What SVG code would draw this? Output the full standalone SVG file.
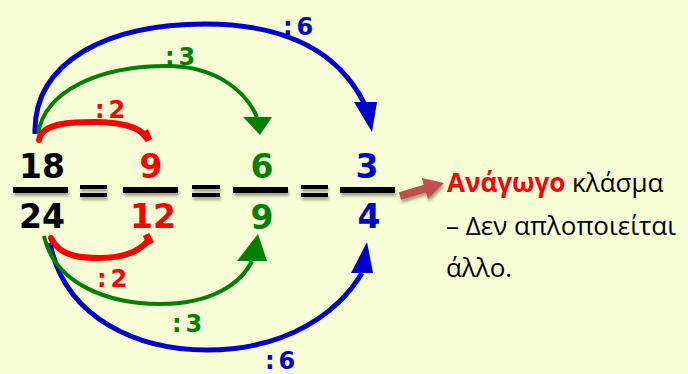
<svg xmlns="http://www.w3.org/2000/svg" width="688" height="374" viewBox="0 0 688 374">
<style>
.num{font-family:"DejaVu Sans","Liberation Sans",sans-serif;font-weight:bold;font-size:33px;text-anchor:middle}
.lbl{font-family:"DejaVu Sans","Liberation Sans",sans-serif;font-weight:bold;font-size:24px;letter-spacing:4px}
.txt{font-family:"Open Sans","Liberation Sans",sans-serif;font-size:26px;fill:#000}
.bar{fill:#000}
.red{fill:#FF0000}.green{fill:#008000}.blue{fill:#0000CC}
.cr{fill:none;stroke:#FF0000;stroke-width:6;stroke-linecap:round}
.cg{fill:none;stroke:#008000;stroke-width:4}
.cb{fill:none;stroke:#0000CC;stroke-width:5}
</style>
<defs>
<filter id="sh" x="-10%" y="-100%" width="120%" height="400%">
<feGaussianBlur in="SourceAlpha" stdDeviation="1.5"/>
<feOffset dx="1" dy="3" result="b"/>
<feComponentTransfer><feFuncA type="linear" slope="0.35"/></feComponentTransfer>
<feMerge><feMergeNode/><feMergeNode in="SourceGraphic"/></feMerge>
</filter>
</defs>
<rect width="688" height="374" fill="#F7FDD4"/>

<g id="connectors">
<path class="cb" d="M35 134 C33 60 110 24 205 24 C290 24 340 55 364 103"/>
<polygon class="blue" points="354,102 377,102 372,132"/>
<path class="cg" d="M38 134 C45 90 100 66 167 66 C215 66 245 90 257 117"/>
<polygon class="green" points="243,117 272,117 260,135"/>
<path class="cr" d="M39 140 C42 122 75 122 95 122 C120 122 140 127 146 137"/>
<polygon class="red" points="139,134 148,129 152,139 146,142"/>
<path class="cb" d="M50 243 C65 320 140 350 207 350 C290 350 340 310 362 273"/>
<polygon class="blue" points="351,273 373,273 367,242"/>
<path class="cg" d="M44 236 C55 285 110 304 160 304 C210 304 240 285 252 261"/>
<polygon class="green" points="237,261 267,261 258,234"/>
<path class="cr" d="M51 238 C60 258 85 258 100 258 C125 258 140 250 148 241"/>
<polygon class="red" points="143,236 149,233 154,242 147,246"/>
<polygon fill="#C0504D" filter="url(#sh)" points="398.9,192.2 423.8,184.8 421.8,178.1 444,183 428,199.1 426,192.4 401.1,199.8"/>
</g>

<g id="labels">
<text class="lbl blue" x="283" y="35">:6</text>
<text class="lbl green" x="165" y="65">:3</text>
<text class="lbl red" x="95" y="118">:2</text>
<text class="lbl red" x="97" y="287">:2</text>
<text class="lbl green" x="172" y="332">:3</text>
<text class="lbl blue" x="265" y="369">:6</text>
</g>

<g id="frac-18-24">
<text class="num" x="42" y="178" fill="#000">18</text>
<rect class="bar" x="13" y="187" width="55" height="6" filter="url(#sh)"/>
<text class="num" x="42" y="228" fill="#000">24</text>
</g>
<g id="eq1"><rect class="bar" x="80" y="185" width="27" height="4" filter="url(#sh)"/><rect class="bar" x="80" y="193" width="27" height="4" filter="url(#sh)"/></g>
<g id="frac-9-12">
<text class="num red" x="151" y="178">9</text>
<rect class="bar" x="123" y="187" width="55" height="6" filter="url(#sh)"/>
<text class="num red" x="153" y="228">12</text>
</g>
<g id="eq2"><rect class="bar" x="192" y="185" width="28" height="4" filter="url(#sh)"/><rect class="bar" x="192" y="193" width="28" height="4" filter="url(#sh)"/></g>
<g id="frac-6-9">
<text class="num green" x="262" y="178">6</text>
<rect class="bar" x="233" y="187" width="55" height="6" filter="url(#sh)"/>
<text class="num green" x="262" y="229">9</text>
</g>
<g id="eq3"><rect class="bar" x="301" y="185" width="27" height="4" filter="url(#sh)"/><rect class="bar" x="301" y="193" width="27" height="4" filter="url(#sh)"/></g>
<g id="frac-3-4">
<text class="num blue" x="367" y="178">3</text>
<rect class="bar" x="340" y="187" width="55" height="6" filter="url(#sh)"/>
<text class="num blue" x="369" y="228">4</text>
</g>

<g id="note">
<text class="txt" x="447" y="192"><tspan fill="#FF0000" font-weight="bold">Ανάγωγο</tspan> κλάσμα</text>
<text class="txt" x="446" y="235">– Δεν απλοποιείται</text>
<text class="txt" x="446" y="277">άλλο.</text>
</g>
</svg>
